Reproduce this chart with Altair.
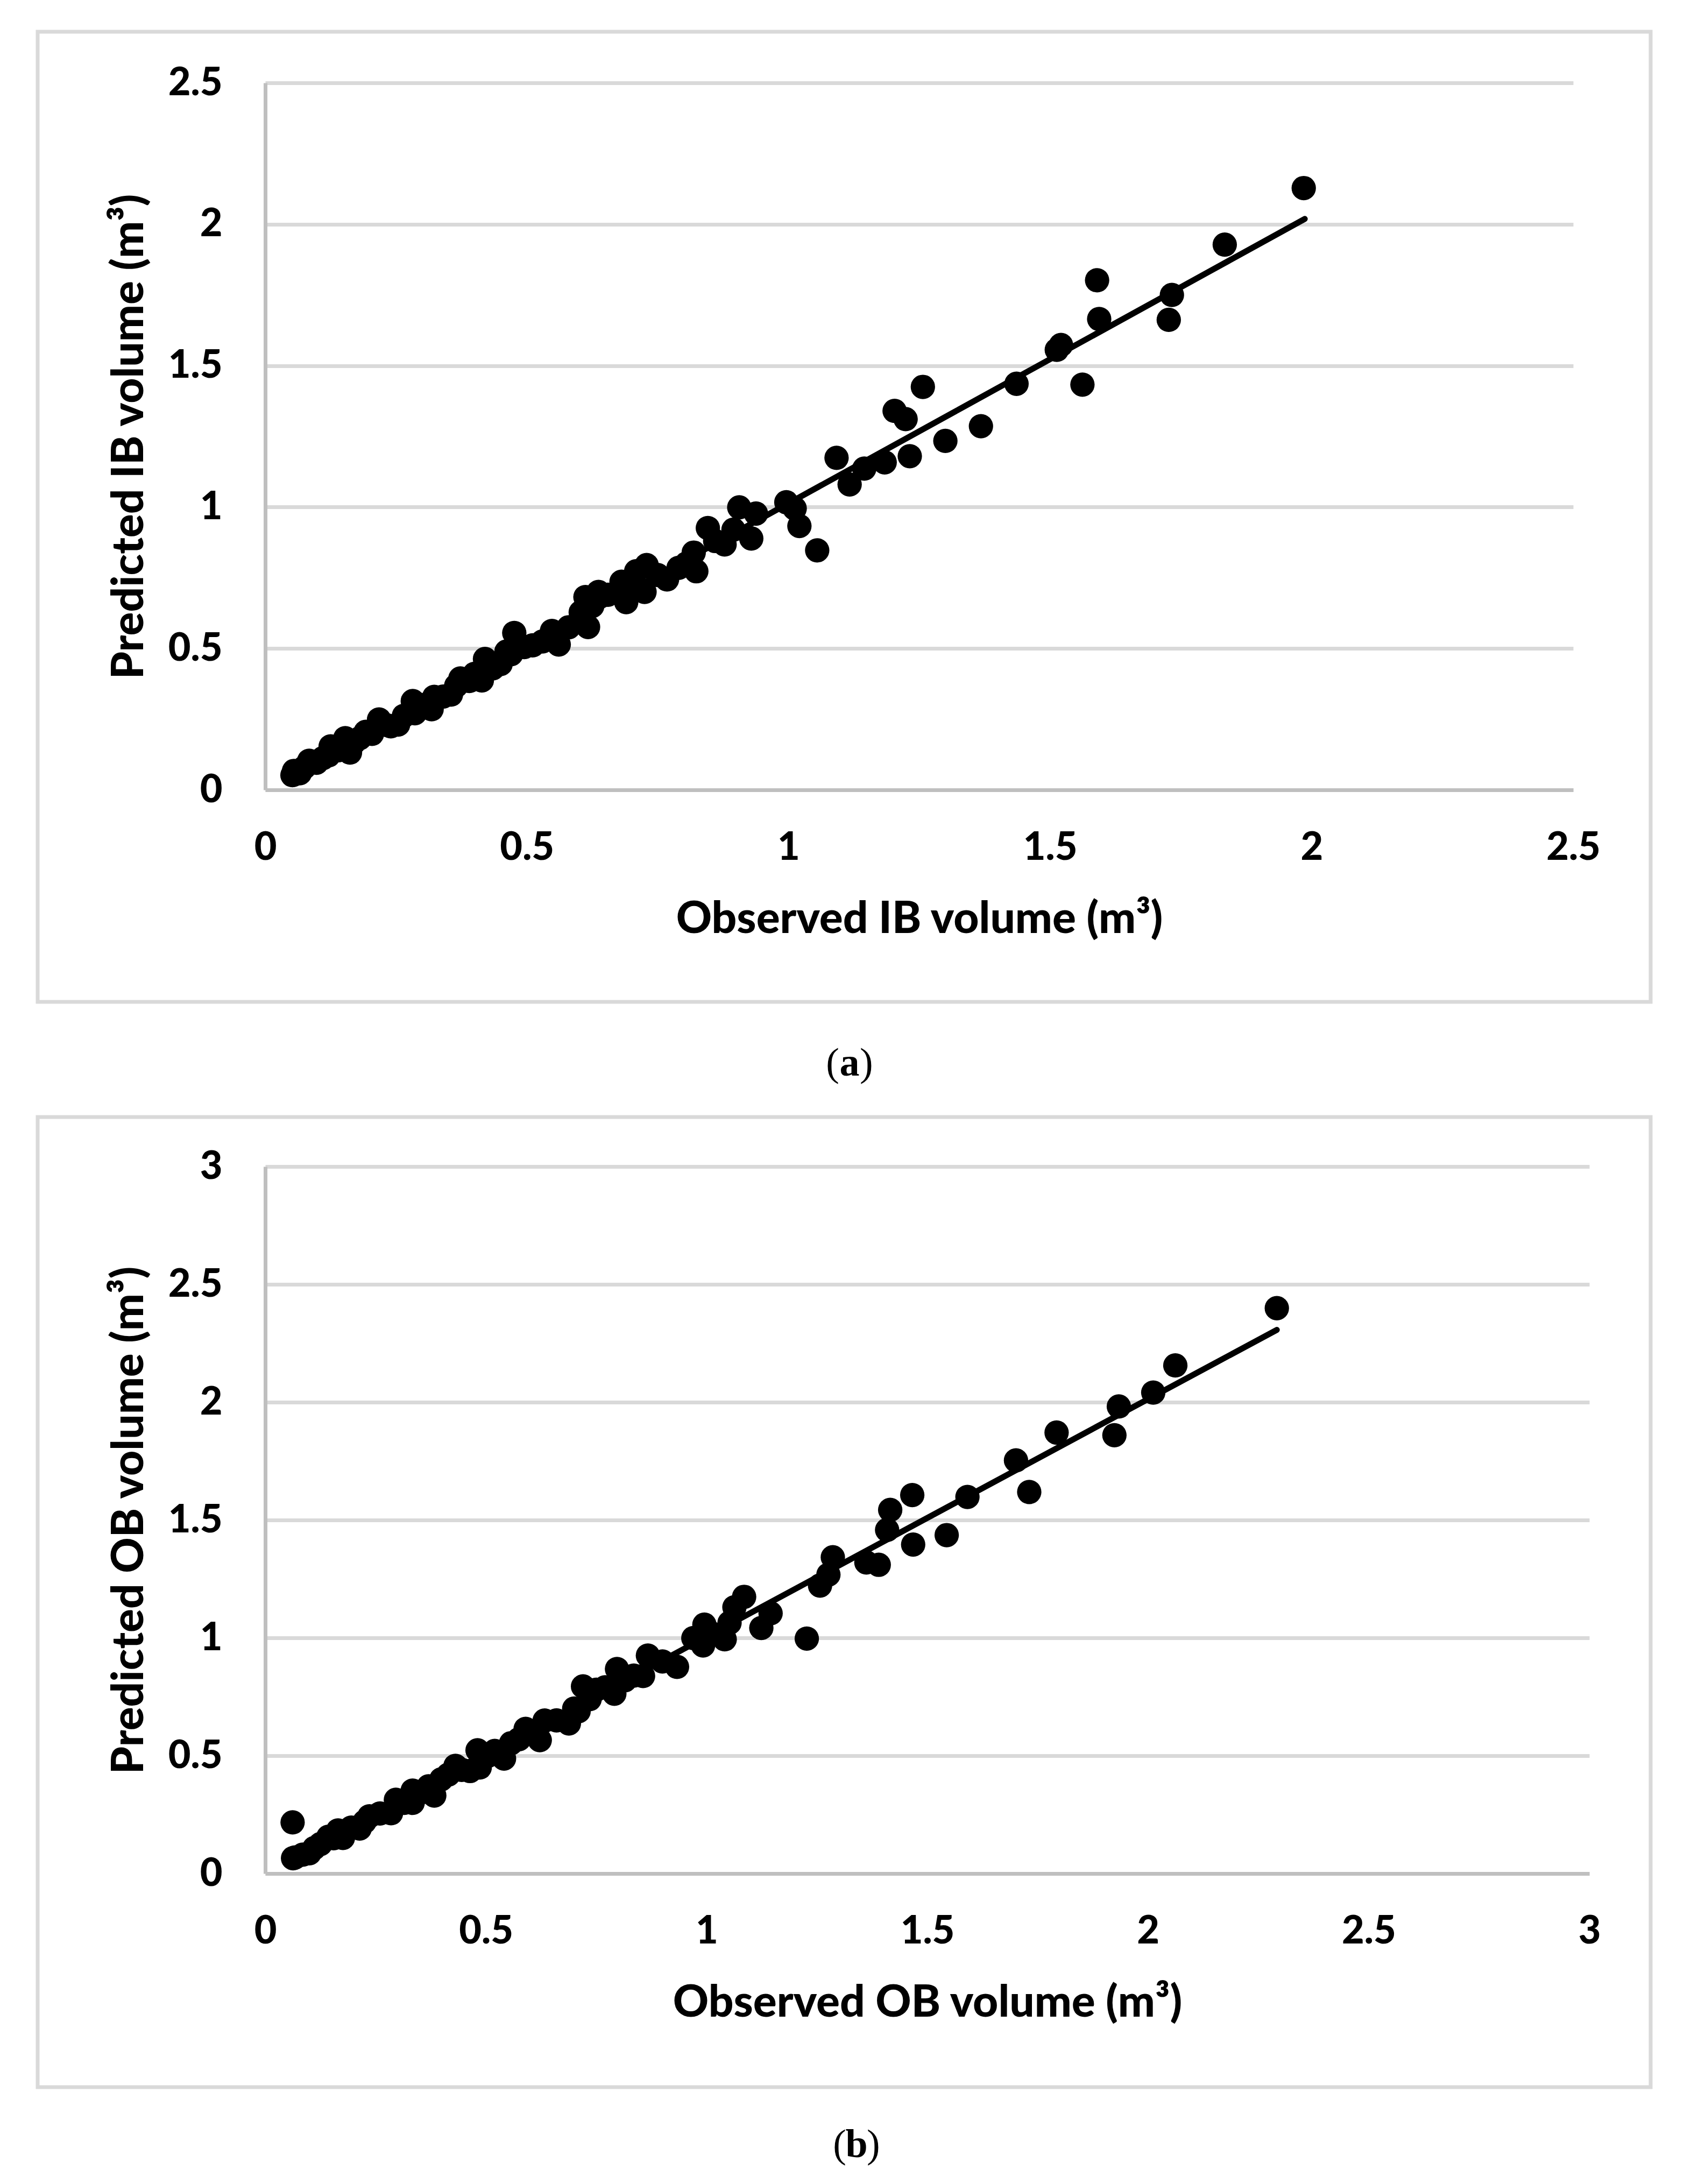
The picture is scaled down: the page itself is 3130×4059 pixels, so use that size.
import altair as alt
import pandas as pd

# ---------------- data: panel (a) inside-bark volume ----------------
ib_obs = [0.052, 0.055, 0.066, 0.075, 0.084, 0.098, 0.110, 0.121, 0.125, 0.140,
          0.153, 0.162, 0.170, 0.181, 0.192, 0.204, 0.2175, 0.230, 0.240, 0.254,
          0.265, 0.282, 0.286, 0.300, 0.318, 0.323, 0.340, 0.355, 0.365, 0.373,
          0.390, 0.400, 0.414, 0.420, 0.435, 0.450, 0.461, 0.470, 0.476, 0.495,
          0.511, 0.530, 0.548, 0.561, 0.580, 0.603, 0.612, 0.617, 0.625, 0.637,
          0.655, 0.681, 0.690, 0.700, 0.709, 0.725, 0.729, 0.750, 0.768, 0.790,
          0.805, 0.819, 0.824, 0.846, 0.860, 0.878, 0.895, 0.906, 0.929, 0.938,
          0.996, 1.021, 1.055, 1.092, 1.117, 1.145, 1.184, 1.203, 1.224, 1.232,
          1.257, 1.300, 1.368, 1.436, 1.513, 1.521, 1.562, 1.590, 1.594, 1.727,
          1.733, 1.834, 1.985, 1.012]
ib_pred = [0.052, 0.067, 0.059, 0.080, 0.103, 0.096, 0.112, 0.122, 0.154, 0.140,
           0.183, 0.132, 0.168, 0.183, 0.205, 0.198, 0.249, 0.230, 0.225, 0.231,
           0.262, 0.314, 0.271, 0.300, 0.285, 0.329, 0.330, 0.337, 0.368, 0.394,
           0.385, 0.410, 0.387, 0.463, 0.430, 0.445, 0.489, 0.480, 0.555, 0.505,
           0.511, 0.525, 0.562, 0.514, 0.575, 0.628, 0.682, 0.576, 0.650, 0.700,
           0.690, 0.736, 0.664, 0.710, 0.773, 0.700, 0.795, 0.760, 0.744, 0.785,
           0.800, 0.839, 0.773, 0.926, 0.880, 0.868, 0.920, 0.999, 0.889, 0.977,
           1.017, 0.933, 0.847, 1.174, 1.080, 1.136, 1.158, 1.340, 1.311, 1.180,
           1.425, 1.234, 1.286, 1.436, 1.556, 1.573, 1.433, 1.802, 1.665, 1.662,
           1.750, 1.928, 2.128, 0.995]
ib_fit_x = [0.05, 1.987]
ib_fit_y = [0.045, 2.019]
ib_ticks = [0, 0.5, 1, 1.5, 2, 2.5]

# ---------------- data: panel (b) outside-bark volume ----------------
ob_obs = [0.062, 0.063, 0.067, 0.085, 0.100, 0.111, 0.125, 0.143, 0.155, 0.165,
          0.176, 0.195, 0.214, 0.225, 0.236, 0.260, 0.285, 0.296, 0.315, 0.334,
          0.334, 0.355, 0.370, 0.383, 0.399, 0.415, 0.431, 0.445, 0.464, 0.481,
          0.486, 0.505, 0.520, 0.541, 0.557, 0.575, 0.590, 0.605, 0.622, 0.633,
          0.660, 0.688, 0.700, 0.710, 0.720, 0.735, 0.750, 0.770, 0.791, 0.797,
          0.815, 0.835, 0.856, 0.867, 0.900, 0.933, 0.970, 0.992, 0.995, 1.010,
          1.041, 1.052, 1.063, 1.085, 1.124, 1.145, 1.227, 1.257, 1.276, 1.286,
          1.362, 1.390, 1.409, 1.416, 1.466, 1.468, 1.544, 1.591, 1.701, 1.731,
          1.793, 1.924, 1.934, 2.012, 2.062, 2.292]
ob_pred = [0.217, 0.065, 0.068, 0.080, 0.086, 0.108, 0.125, 0.156, 0.150, 0.183,
           0.151, 0.195, 0.191, 0.220, 0.243, 0.255, 0.256, 0.313, 0.300, 0.352,
           0.300, 0.345, 0.370, 0.331, 0.400, 0.420, 0.457, 0.440, 0.435, 0.523,
           0.450, 0.500, 0.520, 0.488, 0.553, 0.570, 0.614, 0.595, 0.566, 0.649,
           0.650, 0.637, 0.700, 0.689, 0.794, 0.740, 0.780, 0.790, 0.763, 0.868,
           0.820, 0.840, 0.838, 0.925, 0.900, 0.877, 0.999, 0.968, 1.056, 1.020,
           0.994, 1.064, 1.130, 1.174, 1.042, 1.104, 0.997, 1.222, 1.268, 1.342,
           1.320, 1.310, 1.458, 1.543, 1.606, 1.396, 1.436, 1.598, 1.753, 1.619,
           1.871, 1.860, 1.982, 2.041, 2.156, 2.399]
ob_fit_x = [0.062, 2.292]
ob_fit_y = [0.06, 2.307]
ob_ticks = [0, 0.5, 1, 1.5, 2, 2.5, 3]

FONT = "Lato"
SERIF = "Liberation Serif"


def panel(obs, pred, fit_x, fit_y, ticks, xtitle, ytitle, width, height,
          border, letter, letter_pos):
    pts = pd.DataFrame({"obs": obs, "pred": pred})
    fit = pd.DataFrame({"obs": fit_x, "pred": fit_y})
    top = ticks[-1]
    xenc = alt.X("obs:Q",
                 scale=alt.Scale(domain=[0, top], nice=False, zero=True),
                 axis=alt.Axis(values=ticks, format="~g", title=xtitle,
                               grid=False, labelPadding=72, titleY=240,
                               titleBaseline="middle", labelFlush=False,
                               labelOverlap=False, zindex=1))
    yenc = alt.Y("pred:Q",
                 scale=alt.Scale(domain=[0, top], nice=False, zero=True),
                 axis=alt.Axis(values=ticks, format="~g", title=ytitle,
                               grid=True, labelPadding=80, titleX=-253,
                               titleAngle=270, titleBaseline="middle",
                               labelFlush=False, labelOverlap=False))
    points = alt.Chart(pts).mark_circle(size=2050, color="black",
                                        opacity=1).encode(x=xenc, y=yenc)
    line = alt.Chart(fit).mark_line(color="black", strokeWidth=11,
                                    strokeCap="round").encode(x="obs:Q", y="pred:Q")
    bx0, bx1, by0, by1 = border
    frame = alt.Chart(pd.DataFrame({"k": [0]})).mark_rect(
        fillOpacity=0, stroke="#d9d9d9", strokeWidth=7).encode(
        x=alt.value(bx0), x2=alt.value(bx1), y=alt.value(by0), y2=alt.value(by1))
    lx, ly = letter_pos
    one = pd.DataFrame({"k": [0]})
    lp = alt.Chart(one).mark_text(text="(", font=SERIF, fontSize=74, align="right",
                                  baseline="middle", color="black").encode(
        x=alt.value(lx - 19), y=alt.value(ly))
    la = alt.Chart(one).mark_text(text=letter, font=SERIF, fontSize=74, fontWeight="bold",
                                  align="center", baseline="middle", color="black").encode(
        x=alt.value(lx), y=alt.value(ly))
    rp = alt.Chart(one).mark_text(text=")", font=SERIF, fontSize=74, align="left",
                                  baseline="middle", color="black").encode(
        x=alt.value(lx + 19), y=alt.value(ly))
    return alt.layer(frame, points, line, lp, la, rp).properties(width=width, height=height)


top_chart = panel(ib_obs, ib_pred, ib_fit_x, ib_fit_y, ib_ticks,
                  "Observed IB volume (m³)", "Predicted IB volume (m³)",
                  2431, 1314, (-423, 2575, -95, 1708), "a", (1086, 1823))
bottom_chart = panel(ob_obs, ob_pred, ob_fit_x, ob_fit_y, ob_ticks,
                     "Observed OB volume (m³)", "Predicted OB volume (m³)",
                     2461, 1314, (-423, 2575, -92, 1711), "b", (1099, 1819))

chart = alt.vconcat(top_chart, bottom_chart, spacing=700, bounds="flush").properties(
    padding={"left": 58, "top": 47, "right": 10, "bottom": 10},
    background="white",
).configure_view(strokeWidth=0).configure_axis(
    labelFont=FONT, labelFontWeight=900, labelFontSize=72, labelColor="black",
    titleFont=FONT, titleFontWeight=900, titleFontSize=82, titleColor="black",
    domainColor="#bfbfbf", domainWidth=7, ticks=False, tickSize=0,
    gridColor="#d9d9d9", gridWidth=7,
)

chart.save("out.html", embed_options={"renderer": "svg", "actions": False})
